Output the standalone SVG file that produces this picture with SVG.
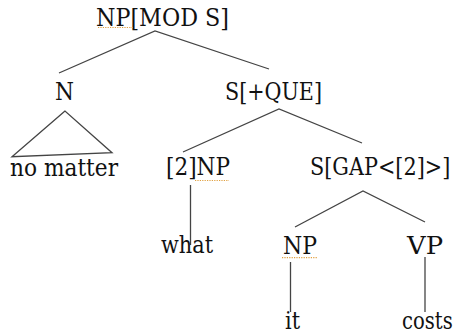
<svg xmlns="http://www.w3.org/2000/svg" width="455" height="336" viewBox="0 0 455 336">
<style>
text{font-family:'DejaVu Serif','Liberation Serif',serif;font-size:25px;fill:#111}
.e{stroke:#444;stroke-width:1.3;fill:none}
.sq{stroke:#e0a040;stroke-width:1.2;stroke-dasharray:1.2 1.2;fill:none}
</style>
<rect width="455" height="336" fill="#fff"/>
<g id="connectors">
<polyline class="e" points="59,73 155,31 269,69"/>
<polygon class="e" points="65,111 12,156.7 112,152.7"/>
<polyline class="e" points="183,152 279,109 362,143"/>
<polyline class="e" points="295,227 363,191 425,222"/>
<line class="e" x1="190.5" y1="185" x2="190.5" y2="245"/>
<line class="e" x1="290.5" y1="262" x2="290.5" y2="312"/>
<line class="e" x1="425" y1="257" x2="425" y2="312"/>
</g>
<g id="n-root"><text x="96" y="26" textLength="133" lengthAdjust="spacingAndGlyphs">NP[MOD S]</text><line class="sq" x1="98" y1="27.5" x2="133" y2="27.5"/></g>
<g id="n-N"><text x="55" y="100" textLength="19" lengthAdjust="spacingAndGlyphs">N</text></g>
<g id="n-SQUE"><text x="225" y="100" textLength="97" lengthAdjust="spacingAndGlyphs">S[+QUE]</text></g>
<g id="n-nomatter"><text x="10" y="176" textLength="108" lengthAdjust="spacingAndGlyphs">no matter</text></g>
<g id="n-2NP"><text x="166" y="175" textLength="64" lengthAdjust="spacingAndGlyphs">[2]NP</text><line class="sq" x1="195" y1="180.5" x2="229" y2="180.5"/></g>
<g id="n-SGAP"><text transform="translate(310,175) scale(0.84,1)" textLength="167" lengthAdjust="spacingAndGlyphs">S[GAP&lt;[2]&gt;]</text></g>
<g id="n-what"><text x="161" y="253" textLength="52" lengthAdjust="spacingAndGlyphs">what</text></g>
<g id="n-NP"><text x="283" y="254" textLength="34" lengthAdjust="spacingAndGlyphs">NP</text><line class="sq" x1="282" y1="257.7" x2="317" y2="257.7"/></g>
<g id="n-VP"><text x="407" y="254" textLength="36" lengthAdjust="spacingAndGlyphs">VP</text></g>
<g id="n-it"><text x="285" y="329" textLength="15" lengthAdjust="spacingAndGlyphs">it</text></g>
<g id="n-costs"><text transform="translate(402,329) scale(0.78,1)" textLength="65" lengthAdjust="spacingAndGlyphs">costs</text></g>
</svg>
